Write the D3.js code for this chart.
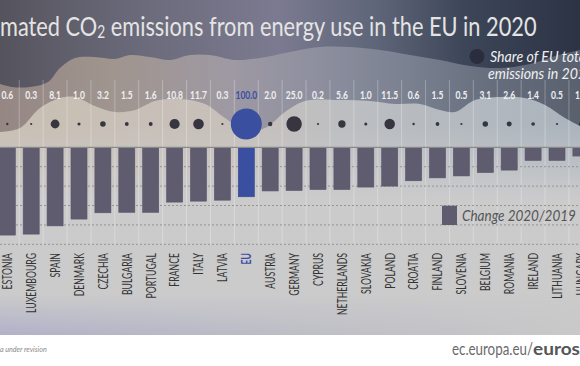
<!DOCTYPE html>
<html><head><meta charset="utf-8">
<script src="https://cdn.jsdelivr.net/npm/d3@7"></script>
<style>body{margin:0;background:#fff;overflow:hidden}svg{display:block}</style>
</head><body>
<svg id="c" width="580" height="366"></svg>
<script>
// ---- data ----
const countries = ["ESTONIA","LUXEMBOURG","SPAIN","DENMARK","CZECHIA","BULGARIA","PORTUGAL","FRANCE","ITALY","LATVIA","EU","AUSTRIA","GERMANY","CYPRUS","NETHERLANDS","SLOVAKIA","POLAND","CROATIA","FINLAND","SLOVENIA","BELGIUM","ROMANIA","IRELAND","LITHUANIA","HUNGARY"];
const shareOfEU = [0.6,0.3,8.1,1.0,3.2,1.5,1.6,10.8,11.7,0.3,100.0,2.0,25.0,0.2,5.6,1.0,11.5,0.6,1.5,0.5,3.1,2.6,1.4,0.5,1.7];
const change2020_2019 = [-18.1,-17.9,-16.2,-14.8,-13.5,-13.4,-13.4,-11.3,-11.1,-10.9,-10.2,-9.0,-8.9,-8.7,-8.7,-8.2,-8.0,-6.9,-6.3,-5.9,-5.2,-4.7,-2.7,-2.7,-1.8];
const gridTicks = [-4,-8,-12,-16,-20];
const titleText = "Estimated CO₂ emissions from energy use in the EU in 2020";
const legendShare = ["Share of EU total", "emissions in 2020"];
const legendChange = "Change 2020/2019";
const footnote = "Data under revision";
const urlParts = ["ec.europa.eu/", "eurostat"];

// decorative background waves (not data)
const waveDark = [[0,84],[12,87],[30,87],[48,82],[60,68],[75,58],[95,57],[115,59],[130,55],[150,57],[170,60],[190,55],[210,55],[235,60],[260,58],[290,52],[320,47],[350,47],[380,50],[410,55],[440,60],[470,66],[500,68],[530,64],[555,56],[580,50]];
const waveMid = [[0,132],[20,128],[40,108],[60,98],[75,97],[95,106],[115,112],[135,110],[155,101],[180,99],[205,104],[225,118],[245,130],[265,128],[285,112],[305,101],[340,100],[370,101],[395,104],[420,104],[440,110],[455,112],[475,100],[500,97],[525,98],[545,105],[565,118],[580,126]];

const FN = "Lato,'Open Sans','Noto Sans',sans-serif";
const svg = d3.select("#c");
const defs = svg.append("defs");
function hgrad(id, stops){
  const g = defs.append("linearGradient").attr("id",id).attr("x1",0).attr("x2",1).attr("y1",0).attr("y2",0);
  stops.forEach(([o,c,a])=>g.append("stop").attr("offset",o).attr("stop-color",c).attr("stop-opacity",a==null?1:a));
}
function vgrad(id, y1, y2, stops){
  const g = defs.append("linearGradient").attr("id",id).attr("gradientUnits","userSpaceOnUse").attr("x1",0).attr("x2",0).attr("y1",y1).attr("y2",y2);
  stops.forEach(([o,c,a])=>g.append("stop").attr("offset",o).attr("stop-color",c).attr("stop-opacity",a==null?1:a));
}
hgrad("lightG",[[0,"#c9bfb3"],[0.4,"#c7c0ba"],[0.6,"#bcbec2"],[1,"#aab4bc"]]);
vgrad("overV",125,200,[[0,"#cbcbcc",0],[1,"#cbcbcc",1]]);
hgrad("botG",[[0,"#b2b1c8"],[0.5,"#bdbdc6"],[1,"#c8c8c8"]]);
vgrad("botFade",295,334,[[0,"#fff",0],[1,"#fff",1]]);
hgrad("midG",[[0,"#958784"],[0.2,"#a0958f"],[0.4,"#9e99a3"],[0.55,"#8d8f9f"],[0.7,"#7a8190"],[0.85,"#666e7e"],[1,"#59616f"]]);
hgrad("darkG",[[0,"#55545d"],[0.25,"#6c6b7c"],[0.48,"#7b7a90"],[0.65,"#5e6578"],[0.8,"#3d4658"],[1,"#2b3345"]]);
const m = defs.append("mask").attr("id","botMask");
m.append("rect").attr("x",0).attr("y",290).attr("width",580).attr("height",46).attr("fill","url(#botFade)");

// background layers
svg.append("rect").attr("width",580).attr("height",335).attr("fill","url(#lightG)");
svg.append("rect").attr("width",580).attr("height",335).attr("fill","url(#overV)");
svg.append("rect").attr("y",290).attr("width",580).attr("height",45).attr("fill","url(#botG)").attr("mask","url(#botMask)");
const area = d3.area().x(d=>d[0]).y0(0).y1(d=>d[1]).curve(d3.curveCatmullRom);
svg.append("path").attr("d",area(waveMid)).attr("fill","url(#midG)");
svg.append("path").attr("d",area(waveDark)).attr("fill","url(#darkG)");
svg.append("rect").attr("y",335).attr("width",580).attr("height",31).attr("fill","#ffffff");

// helper: horizontal scale factor so that a sample string has a target width
function fitScale(sample, size, weight, style, target){
  const t = svg.append("text").attr("font-family",FN).attr("font-size",size)
    .attr("font-weight",weight||"normal").attr("font-style",style||"normal").text(sample);
  const w = t.node().getComputedTextLength();
  t.remove();
  return target / w;
}

// scales
const x = d3.scalePoint().domain(countries).range([7.3, 580.9]);
const step = x.step();
const barW = step*0.67;
const y = d3.scaleLinear().domain([0,-20]).range([147.3,244.3]);
const r = d3.scaleSqrt().domain([0,100]).range([0,15.5]);
const rows = countries.map((c,i)=>({c, share:shareOfEU[i], ch:change2020_2019[i]}));

// vertical separators
const seps = d3.range(countries.length+1).map(i=>x(countries[0]) + (i-0.5)*step);
svg.append("g").selectAll("line").data(seps).join("line")
  .attr("x1",d=>d).attr("x2",d=>d).attr("y1",80).attr("y2",245)
  .attr("stroke","#ffffff").attr("stroke-opacity",0.28).attr("stroke-width",1);

// horizontal dotted gridlines
svg.append("g").selectAll("line").data(gridTicks).join("line")
  .attr("x1",0).attr("x2",580).attr("y1",d=>y(d)).attr("y2",d=>y(d))
  .attr("stroke","#8e8e8e").attr("stroke-width",0.9).attr("stroke-dasharray","2,2");

// bars
svg.append("g").selectAll("rect").data(rows).join("rect")
  .attr("x",d=>x(d.c)-barW/2).attr("width",barW)
  .attr("y",y(0)).attr("height",d=>y(d.ch)-y(0))
  .attr("fill",d=>d.c==="EU"?"#3b4fa0":"#605c6f")
  .attr("stroke",d=>d.c==="EU"?"#34478f":"#57536a").attr("stroke-width",0.6);

// baseline
svg.append("line").attr("x1",0).attr("x2",580).attr("y1",y(0)).attr("y2",y(0))
  .attr("stroke","#8a8a8a").attr("stroke-width",1.2);

// share values
const sNum = fitScale("100.0", 12, "bold", "normal", 21.7);
svg.append("g").selectAll("text").data(rows).join("text")
  .attr("transform",d=>`translate(${x(d.c)},98.5) scale(${sNum},1)`)
  .attr("text-anchor","middle")
  .attr("font-family",FN).attr("font-size",12).attr("font-weight","bold")
  .attr("fill",d=>d.c==="EU"?"#3b4fa0":"#f0f0f0")
  .text(d=>d.share.toFixed(1));

// share dots
svg.append("g").selectAll("circle").data(rows).join("circle")
  .attr("cx",d=>x(d.c)).attr("cy",124)
  .attr("r",d=>Math.max(1.1,r(d.share)))
  .attr("fill",d=>d.c==="EU"?"#3b4fa0":"#363540");

// country labels
const sLab = fitScale("LUXEMBOURG", 13, "normal", "normal", 60);
svg.append("g").selectAll("text").data(rows).join("text")
  .attr("transform",d=>`translate(${x(d.c)+4.8},253) rotate(-90) scale(${sLab},1)`)
  .attr("text-anchor","end")
  .attr("font-family",FN).attr("font-size",13)
  .attr("font-weight",d=>d.c==="EU"?"bold":"normal")
  .attr("fill",d=>d.c==="EU"?"#3b4fa0":"#333333")
  .text(d=>d.c);

// title
const title = svg.append("text").attr("font-family",FN).attr("font-size",27).attr("fill","#e4e4e4");
const tparts = titleText.split("₂");
title.append("tspan").text(tparts[0]);
title.append("tspan").attr("font-size",17).attr("dy",1.5).text("2");
title.append("tspan").attr("dy",-1.5).text(tparts[1]);
{
  const node = title.node();
  const W = node.getComputedTextLength();
  let w0 = 36;
  try { w0 = node.getSubStringLength(0,4); } catch(e){}
  const s = 537/(W - w0);
  title.attr("transform",`translate(${-w0*s},36) scale(${s},1)`);
}

// legend: share
svg.append("circle").attr("cx",477).attr("cy",56.5).attr("r",7.5).attr("fill","#2a2d3c");
const sLeg = fitScale("Share of EU tot", 15, "normal", "italic", 89);
svg.append("text").attr("transform",`translate(490,62) scale(${sLeg},1)`).attr("font-family",FN).attr("font-size",15)
  .attr("font-style","italic").attr("fill","#f0f0f0").text(legendShare[0]);
svg.append("text").attr("transform",`translate(488,79) scale(${sLeg},1)`).attr("font-family",FN).attr("font-size",15)
  .attr("font-style","italic").attr("fill","#f0f0f0").text(legendShare[1]);

// legend: change
svg.append("rect").attr("x",442).attr("y",205.7).attr("width",15).attr("height",19.3).attr("fill","#605c6f");
const sCh = fitScale(legendChange, 15, "normal", "italic", 114);
svg.append("text").attr("transform",`translate(462,221) scale(${sCh},1)`).attr("font-family",FN).attr("font-size",15)
  .attr("font-style","italic").attr("fill","#555555").text(legendChange);

// footer
const sFn = fitScale("a under revision", 8, "normal", "italic", 47);
const wDat = fitScale("Dat", 8, "normal", "italic", 1);
svg.append("text").attr("transform",`translate(${-sFn/wDat},352) scale(${sFn},1)`)
  .attr("font-family",FN).attr("font-size",8)
  .attr("font-style","italic").attr("fill","#8a8a8a").text(footnote);
const sUrl = fitScale(urlParts[0], 17, "normal", "normal", 81);
svg.append("text").attr("transform",`translate(452,355) scale(${sUrl},1)`)
  .attr("font-family",FN).attr("font-size",17).attr("fill","#6a6a6a").text(urlParts[0]);
const sUrlB = fitScale("euros", 17, "bold", "normal", 47);
svg.append("text").attr("transform",`translate(533,355) scale(${sUrlB},1)`)
  .attr("font-family",FN).attr("font-size",17).attr("font-weight","bold").attr("fill","#555555").text(urlParts[1]);
</script>
</body></html>
